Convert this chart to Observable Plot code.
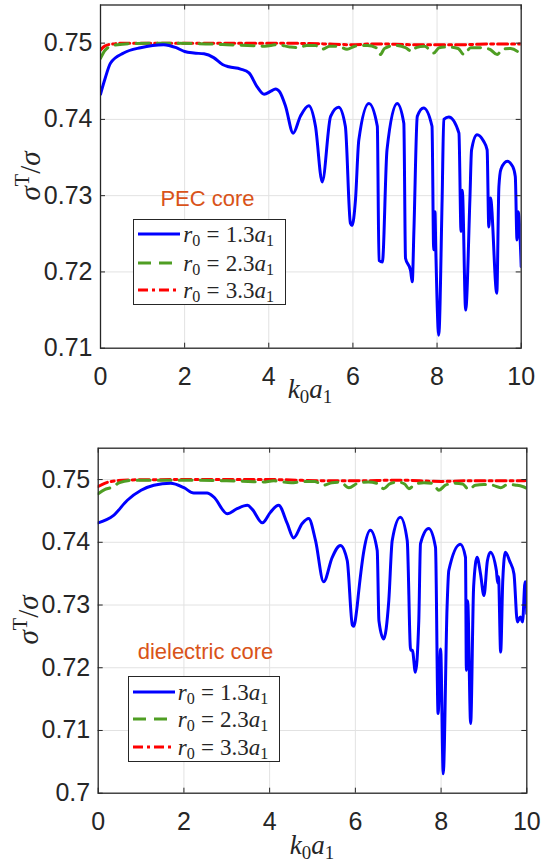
<!DOCTYPE html>
<html><head><meta charset="utf-8">
<script src="https://cdn.jsdelivr.net/npm/d3@7"></script>
<script src="https://cdn.jsdelivr.net/npm/@observablehq/plot@0.6"></script>
<style>
body{margin:0;background:#fff;}
#wrap{position:relative;width:557px;height:868px;background:#fff;overflow:hidden;}
.panel{position:absolute;left:0;}
.ann{position:absolute;transform:translate(-50%,-50%);white-space:nowrap;line-height:1;}
.core{font-family:"Liberation Sans",Arial,sans-serif;font-size:22px;color:#D95319;}
.math{font-family:"Liberation Serif","DejaVu Serif",serif;color:#262626;}
.math sub{font-size:0.7em;vertical-align:-0.28em;line-height:0;}
.math sup{font-size:0.7em;vertical-align:0.5em;line-height:0;font-style:normal;}
.legend{position:absolute;background:#fff;border:1px solid #262626;box-sizing:border-box;}
.row{position:absolute;left:0;height:28px;transform:translateY(-50%);width:100%;}
.row > svg{position:absolute;left:0;top:0;}
.row > .txt{position:absolute;left:49px;top:50%;transform:translateY(-50%);font-size:23px;white-space:nowrap;line-height:1;}
.eq{margin:0 0.27em;font-style:normal;}
</style>
</head><body>
<div id="wrap"></div>
<script>
// ---------------- data ----------------
const xTicks = [0, 2, 4, 6, 8, 10];
const xTickLabels = ["0", "2", "4", "6", "8", "10"];
const yTicksTop = [0.71, 0.72, 0.73, 0.74, 0.75];
const yTickLabelsTop = ["0.71", "0.72", "0.73", "0.74", "0.75"];
const yTicksBot = [0.70, 0.71, 0.72, 0.73, 0.74, 0.75];
const yTickLabelsBot = ["0.7", "0.71", "0.72", "0.73", "0.74", "0.75"];
const seriesNames = ["r0 = 1.3a1", "r0 = 2.3a1", "r0 = 3.3a1"];
const panelTitles = ["PEC core", "dielectric core"];

// PEC core, r0 = 1.3a1
const pecBlueX = [0,0.1,0.24,0.55,0.95,1.5,1.8,2.0,2.22,2.46,2.69,2.9,3.05,3.33,3.53,3.72,3.89,4.05,4.16,4.26,4.40,4.58,4.75,4.95,5.11,5.27,5.47,5.66,5.82,5.94,5.98,6.06,6.14,6.38,6.58,6.62,6.70,6.81,7.05,7.21,7.25,7.37,7.41,7.45,7.53,7.68,7.88,7.92,7.95,7.97,8.04,8.12,8.16,8.28,8.52,8.57,8.60,8.68,8.78,8.82,8.95,9.10,9.19,9.23,9.27,9.42,9.47,9.52,9.67,9.80,9.86,9.90,9.93,10];
const pecBlueY = [0.7433,0.7452,0.7474,0.7487,0.7494,0.7498,0.7494,0.7489,0.7487,0.7486,0.7481,0.7472,0.7469,0.7466,0.7461,0.7443,0.7433,0.7437,0.7440,0.7436,0.7417,0.7382,0.7404,0.7418,0.7391,0.7318,0.7404,0.7416,0.7391,0.7264,0.7261,0.7294,0.7373,0.7421,0.7391,0.7215,0.7213,0.7360,0.7421,0.7395,0.7218,0.7202,0.7187,0.7255,0.7404,0.7415,0.7391,0.7229,0.7279,0.7229,0.7117,0.7294,0.7400,0.7403,0.7382,0.7253,0.7307,0.7150,0.7294,0.7360,0.7380,0.7372,0.7360,0.7259,0.7297,0.7172,0.7312,0.7335,0.7345,0.7338,0.7325,0.7242,0.7279,0.7207];
// PEC core, r0 = 2.3a1
const pecGreenX = [0,0.1,0.3,0.6,1.5,2.5,3.0,3.5,3.9,4.2,4.5,4.7,4.9,5.1,5.27,5.45,5.65,5.86,6.05,6.35,6.55,6.65,6.75,7.0,7.25,7.41,7.5,7.7,7.92,8.05,8.25,8.5,8.64,8.8,9.0,9.25,9.43,9.55,9.75,10];
const pecGreenY = [0.7480,0.7490,0.7497,0.7499,0.7500,0.7499,0.7498,0.7497,0.7496,0.7498,0.7495,0.7494,0.7497,0.7497,0.7492,0.7496,0.7496,0.7492,0.7496,0.7497,0.7494,0.7485,0.7493,0.7497,0.7494,0.7489,0.7494,0.7496,0.7487,0.7494,0.7495,0.7493,0.7485,0.7494,0.7494,0.7492,0.7485,0.7492,0.7493,0.7485];
// PEC core, r0 = 3.3a1
const pecRedX = [0,0.1,0.3,0.6,2,4,5.3,5.9,6.6,7.4,8.0,8.6,9.4,10];
const pecRedY = [0.7491,0.7496,0.7499,0.7500,0.7500,0.7500,0.7499,0.7498,0.7499,0.7498,0.7498,0.7498,0.7499,0.7499];

// dielectric core, r0 = 1.3a1
const dieBlueX = [0,0.36,0.68,1.0,1.30,1.69,2.0,2.23,2.54,2.70,3.01,3.24,3.48,3.6,3.83,4.02,4.21,4.41,4.56,4.76,4.91,5.07,5.26,5.46,5.65,5.81,5.93,5.96,6.04,6.08,6.20,6.35,6.51,6.55,6.66,6.78,6.86,7.05,7.21,7.29,7.33,7.40,7.48,7.52,7.71,7.87,7.93,7.99,8.05,8.14,8.18,8.45,8.57,8.59,8.62,8.69,8.76,8.84,8.92,9.00,9.08,9.15,9.29,9.32,9.34,9.39,9.44,9.50,9.60,9.70,9.78,9.85,9.90,9.96,10];
const dieBlueY = [0.7431,0.7443,0.7467,0.7483,0.7491,0.7494,0.7487,0.74785,0.74785,0.7472,0.74456,0.74536,0.74589,0.7452,0.7431,0.7448,0.7459,0.7430,0.7407,0.7430,0.7438,0.7403,0.7337,0.7376,0.7395,0.7371,0.7268,0.7266,0.7297,0.7323,0.7387,0.7419,0.7387,0.7275,0.7246,0.7307,0.7403,0.7440,0.7403,0.7228,0.7228,0.7193,0.7275,0.7398,0.7422,0.7392,0.7127,0.7230,0.7031,0.7297,0.7355,0.7397,0.7376,0.7196,0.7307,0.7111,0.7330,0.7376,0.7350,0.7315,0.7370,0.7384,0.7355,0.7335,0.7345,0.7225,0.7340,0.7384,0.7370,0.7350,0.7273,0.7281,0.7273,0.7337,0.7286];
// dielectric core, r0 = 2.3a1
const dieGreenX = [0,0.15,0.29,0.5,0.83,2,3,3.5,3.83,4.1,4.5,4.8,5.05,5.26,5.45,5.65,5.85,6.05,6.3,6.5,6.66,6.8,7.0,7.15,7.25,7.4,7.6,7.8,7.95,8.1,8.3,8.5,8.65,8.8,9.0,9.2,9.39,9.55,9.75,9.9,10];
const dieGreenY = [0.74775,0.7484,0.7487,0.7495,0.7499,0.7499,0.7498,0.7497,0.7496,0.7498,0.7495,0.7497,0.7497,0.7491,0.7495,0.7496,0.7487,0.7494,0.7496,0.7494,0.74855,0.7493,0.7496,0.7493,0.74855,0.7493,0.7495,0.7494,0.7483,0.7491,0.7494,0.7493,0.7484,0.7491,0.7492,0.7491,0.7487,0.7492,0.7491,0.7489,0.7486];
// dielectric core, r0 = 3.3a1
const dieRedX = [0,0.15,0.4,0.8,2,4,5.3,6.0,7.0,8.0,8.6,9.3,9.9,10];
const dieRedY = [0.7489,0.7494,0.7498,0.74995,0.7500,0.7500,0.7498,0.7498,0.7499,0.7497,0.7498,0.7498,0.7498,0.7499];

// ---------------- styles ----------------
const colors = ["#0000ff", "#4f9e23", "#ff0000"];
const dashes = [null, "13,8", "10,4,3,4"];
const axisColor = "#262626";
const gridColor = "#e2e2e2";

function zip(xs, ys, k) { return xs.map((x, i) => ({x, y: ys[i], k})); }

function makePanel({height, mt, mb, ml, mr, yDomain, yTicks, yLabels, series}) {
  const W = 557, innerH = height - mt - mb, innerW = W - ml - mr, tl = 5;
  const marks = [
    Plot.gridX(xTicks.slice(1, -1), {stroke: gridColor, strokeOpacity: 1, strokeWidth: 1}),
    Plot.gridY(yTicks.slice(1), {stroke: gridColor, strokeOpacity: 1, strokeWidth: 1})
  ];
  series.slice().reverse().forEach(([xs, ys, i]) => {
    marks.push(Plot.line(zip(xs, ys, i), {x: "x", y: "y", stroke: colors[i], strokeWidth: 3,
      strokeDasharray: dashes[i], curve: "monotone-x", clip: true, strokeLinejoin: "round"}));
  });
  marks.push(
    Plot.frame({stroke: axisColor, strokeWidth: 1.3}),
    Plot.tickX(xTicks, {x: d => d, insetTop: innerH - tl, stroke: axisColor, strokeWidth: 1}),
    Plot.tickX(xTicks, {x: d => d, insetBottom: innerH - tl, stroke: axisColor, strokeWidth: 1}),
    Plot.tickY(yTicks, {y: d => d, insetRight: innerW - tl, stroke: axisColor, strokeWidth: 1}),
    Plot.tickY(yTicks, {y: d => d, insetLeft: innerW - tl, stroke: axisColor, strokeWidth: 1}),
    Plot.axisX(xTicks, {tickSize: 0, tickPadding: 19, fontSize: 25, label: null,
      tickFormat: d => xTickLabels[xTicks.indexOf(d)], fill: axisColor}),
    Plot.axisY(yTicks, {tickSize: 0, tickPadding: 8, fontSize: 25, label: null,
      tickFormat: d => yLabels[yTicks.indexOf(d)], fill: axisColor})
  );
  return Plot.plot({
    width: W, height, marginTop: mt, marginBottom: mb, marginLeft: ml, marginRight: mr,
    x: {domain: [0, 10]}, y: {domain: yDomain},
    style: {fontFamily: '"Liberation Sans", Arial, sans-serif', background: "white", color: axisColor},
    marks
  });
}

const wrap = document.getElementById("wrap");
function place(el, top) { el.classList.add("panel"); el.style.top = top + "px"; wrap.appendChild(el); }

place(makePanel({height: 410, mt: 4.5, mb: 62.3, ml: 100, mr: 36.3, yDomain: [0.71, 0.755],
  yTicks: yTicksTop, yLabels: yTickLabelsTop,
  series: [[pecBlueX, pecBlueY, 0], [pecGreenX, pecGreenY, 1], [pecRedX, pecRedY, 2]]}), 0);
place(makePanel({height: 458, mt: 37.7, mb: 75.3, ml: 97.7, mr: 30.7, yDomain: [0.70, 0.755],
  yTicks: yTicksBot, yLabels: yTickLabelsBot,
  series: [[dieBlueX, dieBlueY, 0], [dieGreenX, dieGreenY, 1], [dieRedX, dieRedY, 2]]}), 410);

// ---------------- overlays: labels, annotations, legends ----------------
function html(s) { const d = document.createElement("div"); d.innerHTML = s; return d.firstElementChild; }
function fmtName(n) {
  const m = n.match(/r0 = ([\d.]+)a1/);
  return `<span class="math"><i>r</i><sub>0</sub><span class="eq">=</span>${m[1]}<i>a</i><sub>1</sub></span>`;
}
function addLabel(cx, cy, inner, cls, rot) {
  const el = html(`<div class="ann ${cls}">${inner}</div>`);
  el.style.left = cx + "px"; el.style.top = cy + "px";
  if (rot) el.style.transform = "translate(-50%,-50%) rotate(-90deg)";
  wrap.appendChild(el);
}
const ylab = `<span class="math" style="font-size:29px"><i>σ</i><sup>T</sup>/<i>σ</i></span>`;
const xlab = `<span class="math" style="font-size:27px"><i>k</i><sub>0</sub><i>a</i><sub>1</sub></span>`;
addLabel(30, 176, ylab, "", true);
addLabel(28, 620, ylab, "", true);
addLabel(310, 389, xlab, "");
addLabel(312, 845, xlab, "");
addLabel(207.5, 199, panelTitles[0], "core");
addLabel(205.5, 652, panelTitles[1], "core");

function addLegend(left, top, w, h, rows) {
  const lg = document.createElement("div");
  lg.className = "legend";
  Object.assign(lg.style, {left: left + "px", top: top + "px", width: w + "px", height: h + "px"});
  rows.forEach((ry, i) => {
    const row = document.createElement("div");
    row.className = "row";
    row.style.top = ry + "px";
    const dash = dashes[i] ? `stroke-dasharray="${dashes[i]}"` : "";
    row.innerHTML = `<svg width="48" height="28"><line x1="4" x2="46" y1="14" y2="14" stroke="${colors[i]}" stroke-width="3" ${dash}/></svg><span class="txt">${fmtName(seriesNames[i])}</span>`;
    lg.appendChild(row);
  });
  wrap.appendChild(lg);
}
addLegend(133.3, 219, 152.4, 86, [14, 43, 70]);
addLegend(127.7, 676, 152.3, 86, [14.7, 42.3, 70]);
</script>
</body></html>
